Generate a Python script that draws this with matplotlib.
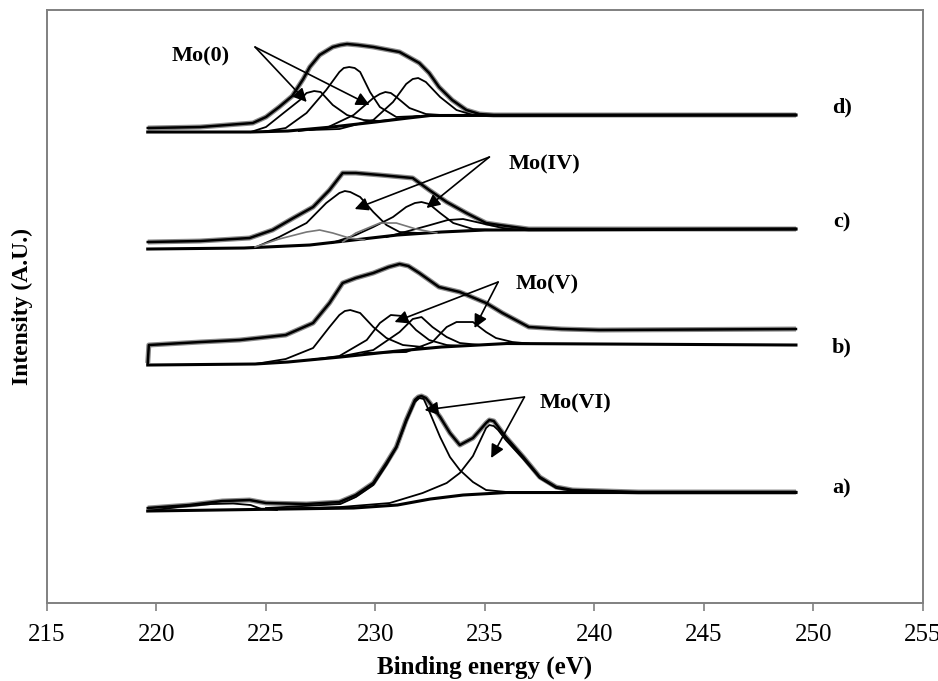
import matplotlib
matplotlib.use("Agg")
import matplotlib.pyplot as plt

plt.rcParams['font.family'] = ['Liberation Serif', 'DejaVu Serif']

# binding energy (eV) / intensity (A.U.)
# --- spectrum d ---
d_env_x = [219.6, 222.0, 224.4, 225.0, 225.6, 226.2, 226.7, 227.0, 227.45, 228.05, 228.4, 228.7, 229.2, 229.9,
           231.1, 232.0, 232.45, 232.9, 233.5, 234.15, 234.75, 235.4, 249.2]
d_env_y = [475, 476, 480, 486, 496, 507, 524, 536, 548, 556, 558, 559, 558, 556,
           551, 540, 530, 516, 503, 493, 489, 488, 488]
d_bg_x = [219.6, 224.3, 226.0, 228.0, 230.0, 231.5, 232.5, 249.2]
d_bg_y = [471, 471, 472, 476, 481, 485, 487.5, 488]
d_p1_x = [224.3, 225.0, 225.8, 226.55, 226.85, 227.2, 227.5, 228.05, 228.7, 229.45, 230.2, 231.0, 232.0]
d_p1_y = [471, 476, 490, 503, 510, 512, 511, 498, 488, 483, 482, 484, 487]
d_p2_x = [224.8, 225.9, 226.85, 227.75, 228.35, 228.55, 228.8, 229.05, 229.3, 229.75, 230.2, 230.95, 232.0]
d_p2_y = [471, 475, 490, 513, 531, 535, 536, 535, 531, 511, 496, 486, 487]
d_p3_x = [226.5, 227.75, 229.0, 229.9, 230.2, 230.45, 230.7, 230.95, 231.55, 232.3, 233.0]
d_p3_y = [472, 475, 488, 505, 509, 511, 510, 506, 495, 489, 488]
d_p4_x = [227.0, 228.35, 229.9, 230.8, 231.4, 231.7, 231.95, 232.3, 232.95, 233.7, 234.45, 235.2]
d_p4_y = [473, 474, 483, 501, 519, 524, 525, 521, 506, 493, 488, 488]

# --- spectrum c ---
c_env_x = [219.6, 222.0, 224.25, 225.3, 226.25, 227.15, 227.9, 228.5, 229.1, 230.2, 231.7,
           232.45, 233.25, 234.15, 235.05, 235.65, 237.0, 249.2]
c_env_y = [361, 362, 365, 373, 385, 396, 413, 430, 430, 428, 425,
           413, 401, 390, 380, 378, 374, 374]
c_bg_x = [219.6, 224.0, 227.0, 229.0, 231.0, 233.0, 235.0, 249.2]
c_bg_y = [354, 355, 358, 363, 368, 371, 373, 374]
c_p1_x = [224.55, 225.6, 226.85, 227.75, 228.35, 228.6, 228.85, 229.3, 229.9, 230.5, 231.1, 232.0]
c_p1_y = [356, 366, 380, 400, 410, 412, 411, 406, 391, 378, 371, 370]
c_p2_x = [228.0, 229.1, 229.9, 230.8, 231.4, 231.8, 232.1, 232.45, 232.95, 233.55, 234.45, 235.5]
c_p2_y = [360, 368, 376, 386, 396, 400, 401, 399, 390, 380, 374, 373]
c_p3_x = [230.5, 231.5, 232.5, 233.3, 234.0, 234.8, 235.8, 236.6]
c_p3_y = [366, 372, 378, 383, 384, 380, 375, 373]
c_g1_x = [224.5, 225.6, 226.85, 227.45, 228.05, 228.8, 229.5]
c_g1_y = [356, 364, 371, 373, 370, 365, 363]
c_g2_x = [228.5, 229.1, 230.2, 230.95, 231.85, 232.8]
c_g2_y = [361, 370, 380, 380, 374, 370]

# --- spectrum b ---
b_env_x = [219.6, 219.65, 222.0, 223.8, 225.9, 227.15, 227.9, 228.5, 229.1, 229.9, 230.6, 231.1, 231.5, 232.0,
           232.9, 233.85, 235.05, 235.8, 237.0, 238.5, 240.2, 249.2]
b_env_y = [240, 258, 261, 263, 268, 280, 300, 320, 325, 330, 336, 339, 337, 330,
           316, 311, 300, 290, 276, 274, 273, 274]
b_bg_x = [219.6, 224.5, 226.0, 228.4, 231.0, 233.0, 236.0, 249.2]
b_bg_y = [238, 239, 241, 246, 252, 256, 259.5, 258]
b_p1_x = [224.5, 225.9, 227.15, 227.9, 228.35, 228.6, 228.85, 229.3, 229.9, 230.5, 231.25, 232.15]
b_p1_y = [239, 244, 255, 276, 288, 292, 293, 290, 276, 265, 258, 256]
b_p2_x = [227.0, 228.35, 229.6, 230.2, 230.7, 231.25, 231.85, 232.45, 233.25, 234.0]
b_p2_y = [243, 247, 263, 280, 288, 287, 273, 263, 258, 257]
b_p3_x = [228.5, 229.9, 231.1, 231.7, 232.1, 232.6, 233.25, 233.85, 234.8]
b_p3_y = [247, 253, 271, 284, 286, 276, 266, 260, 258]
b_p4_x = [229.5, 231.4, 232.6, 233.25, 233.7, 234.45, 235.05, 235.5, 236.25, 237.0]
b_p4_y = [250, 251, 261, 276, 281, 281, 271, 265, 261, 259.5]

# --- spectrum a ---
a_env_x = [219.6, 221.5, 223.0, 224.25, 225.0, 226.85, 228.35, 229.1, 229.9, 230.5, 230.95, 231.4,
           231.8, 231.95, 232.1, 232.3, 232.45, 232.95, 233.4, 233.85, 234.45, 235.05, 235.2, 235.4,
           235.95, 236.75, 237.5, 238.25, 239.0, 242.0, 249.2]
a_env_y = [95, 98, 102, 103, 100, 99, 101, 108, 120, 140, 156, 183,
           203, 206, 207, 205, 201, 186, 170, 158, 165, 180, 183, 182,
           166, 146, 126, 116, 113, 111, 111]
a_bg_x = [219.6, 229.0, 231.0, 232.5, 234.0, 236.0, 249.2]
a_bg_y = [92, 95, 98, 104, 108, 110.5, 110.5]
a_p1_x = [225.0, 228.4, 229.1, 229.9, 230.5, 230.95, 231.4, 231.8, 232.0, 232.2, 232.45, 232.95,
          233.4, 233.85, 234.45, 235.05, 236.0, 249.2]
a_p1_y = [95, 99, 106, 118, 138, 155, 181, 201, 205, 204, 192, 166,
          146, 133, 121, 113, 111, 110.5]
a_p2_x = [225.0, 228.4, 230.65, 232.15, 233.25, 233.85, 234.45, 234.9, 235.05, 235.2, 235.4, 235.6,
          235.95, 236.75, 237.5, 238.25, 239.0, 240.0, 249.2]
a_p2_y = [94, 96, 100, 110, 120, 130, 147, 168, 175, 178, 177, 173,
          163, 144, 125, 115, 112, 111, 110.5]
a_p0_x = [219.6, 221.0, 222.5, 223.5, 224.3, 224.8, 225.5]
a_p0_y = [92, 96, 99, 99.5, 98, 94, 93]

# annotations: label, text position, arrow start, arrow tips
mo0_text = (220.7, 547)
mo0_start = (224.5, 556)
mo0_tips = [(226.86, 501), (229.73, 498)]
mo4_text = (236.1, 439)
mo4_start = (235.2, 446)
mo4_tips = [(229.05, 394), (232.33, 395)]
mo5_text = (236.4, 319)
mo5_start = (235.6, 321)
mo5_tips = [(230.87, 281), (234.52, 275)]
mo6_text = (237.5, 200)
mo6_start = (236.8, 206)
mo6_tips = [(232.24, 193), (235.28, 145)]

curve_labels = ['d)', 'c)', 'b)', 'a)']
curve_label_y = [496, 381, 256, 115]

fig = plt.figure(figsize=(9.38, 6.81), dpi=100)
ax = fig.add_axes([0.0501, 0.1145, 0.9339, 0.8708])

GREY = '#8a8a8a'

def envelope(x, y):
    ax.plot(x, y, color=GREY, lw=3.6, solid_capstyle='butt')
    ax.plot(x, y, color='black', lw=1.8)

def comp(x, y, lw=1.3, color='black'):
    ax.plot(x, y, color=color, lw=lw)

for ex, ey in [(d_env_x, d_env_y), (c_env_x, c_env_y), (b_env_x, b_env_y), (a_env_x, a_env_y)]:
    envelope(ex, ey)

for bx, by in [(d_bg_x, d_bg_y), (c_bg_x, c_bg_y), (b_bg_x, b_bg_y), (a_bg_x, a_bg_y)]:
    comp(bx, by, lw=2.2)

for px, py in [(d_p1_x, d_p1_y), (d_p2_x, d_p2_y), (d_p3_x, d_p3_y), (d_p4_x, d_p4_y),
               (c_p1_x, c_p1_y), (c_p2_x, c_p2_y), (c_p3_x, c_p3_y),
               (b_p1_x, b_p1_y), (b_p2_x, b_p2_y), (b_p3_x, b_p3_y), (b_p4_x, b_p4_y),
               (a_p1_x, a_p1_y), (a_p2_x, a_p2_y), (a_p0_x, a_p0_y)]:
    comp(px, py)

comp(c_g1_x, c_g1_y, lw=1.2, color='#777777')
comp(c_g2_x, c_g2_y, lw=1.2, color='#777777')

txt = dict(fontsize=16, fontweight='bold', va='center', ha='left')
for label, tpos, start, tips in [('Mo(0)', mo0_text, mo0_start, mo0_tips),
                                 ('Mo(IV)', mo4_text, mo4_start, mo4_tips),
                                 ('Mo(V)', mo5_text, mo5_start, mo5_tips),
                                 ('Mo(VI)', mo6_text, mo6_start, mo6_tips)]:
    ax.text(tpos[0], tpos[1], label, **txt)
    for tip in tips:
        ax.annotate('', xy=tip, xytext=start,
                    arrowprops=dict(arrowstyle='-|>', color='black', lw=1.2,
                                    mutation_scale=20, shrinkA=0, shrinkB=0))

for lab, ly in zip(curve_labels, curve_label_y):
    ax.text(251.3, ly, lab, fontsize=16, fontweight='bold', va='center', ha='center')

ax.set_xlim(215, 255)
ax.set_ylim(0, 593)
ax.set_xticks(range(215, 256, 5))
ax.set_yticks([])
ax.tick_params(axis='x', direction='out', length=6, width=1.2, color='#808080',
               labelsize=18, pad=9)
for s in ax.spines.values():
    s.set_color('#808080')
    s.set_linewidth(1.4)

ax.set_xlabel('Binding energy (eV)', fontsize=18, fontweight='bold', labelpad=7)
ax.set_ylabel('Intensity (A.U.)', fontsize=17, fontweight='bold', labelpad=10)

fig.savefig('out.png', dpi=100)
